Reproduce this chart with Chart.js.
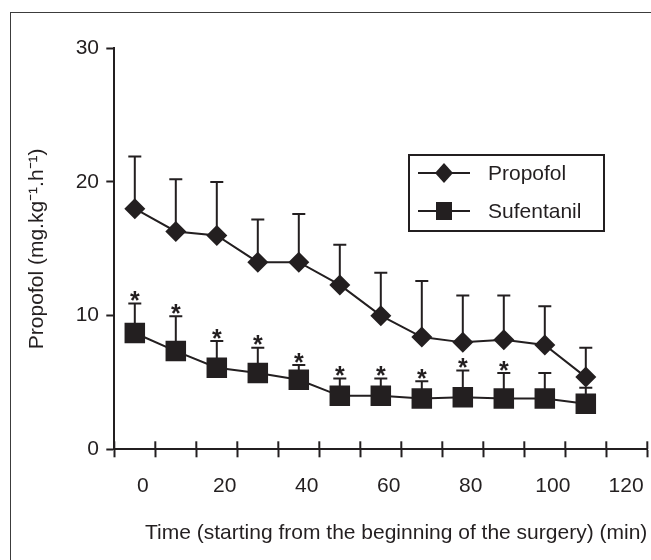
<!DOCTYPE html>
<html>
<head>
<meta charset="utf-8">
<script src="https://cdn.jsdelivr.net/npm/chart.js@4.4.1/dist/chart.umd.min.js"></script>
<style>
  html, body { margin: 0; padding: 0; background: #fff; }
  #wrap { position: relative; width: 651px; height: 560px; overflow: hidden; }
  #frame { position: absolute; left: 10px; top: 12px; width: 700px; height: 600px;
           border-left: 1.5px solid #3c3c3c; border-top: 1.5px solid #3c3c3c; }
  #chart { position: absolute; left: 0; top: 0; }
  #legend { position: absolute; left: 408px; top: 154px; width: 193px; height: 74px;
            border: 2px solid #231f20; font: 21px "Liberation Sans", Arial, sans-serif; color: #231f20; }
  #legend .row { position: absolute; left: 8px; height: 24px; display: flex; align-items: center; }
  #legend svg { margin-right: 18px; }
</style>
</head>
<body>
<div id="wrap">
  <div id="frame"></div>
  <canvas id="chart" width="651" height="560"></canvas>
  <div id="legend">
    <div class="row" style="top:5px">
      <svg width="52" height="24"><line x1="0" y1="12" x2="52" y2="12" stroke="#231f20" stroke-width="2"/>
        <polygon points="26,2 35,12 26,22 17,12" fill="#231f20"/></svg>
      <span id="lg0"></span>
    </div>
    <div class="row" style="top:43px">
      <svg width="52" height="24"><line x1="0" y1="12" x2="52" y2="12" stroke="#231f20" stroke-width="2"/>
        <rect x="18" y="3" width="16" height="18" fill="#231f20"/></svg>
      <span id="lg1"></span>
    </div>
  </div>
</div>
<script>
// time points (min) and group means / SD (upper bars only)
const times = [0, 10, 20, 30, 40, 50, 60, 70, 80, 90, 100, 110];
const propofolMean = [18.0, 16.3, 16.0, 14.0, 14.0, 12.3, 10.0, 8.4, 8.0, 8.2, 7.8, 5.4];
const propofolSD = [3.9, 3.9, 4.0, 3.2, 3.6, 3.0, 3.2, 4.2, 3.5, 3.3, 2.9, 2.2];
const sufentanilMean = [8.7, 7.35, 6.1, 5.7, 5.2, 4.0, 4.0, 3.8, 3.9, 3.8, 3.8, 3.4];
const sufentanilSD = [2.2, 2.6, 2.0, 1.9, 1.1, 1.3, 1.3, 1.3, 2.0, 1.9, 1.9, 1.2];
const significant = [1, 1, 1, 1, 1, 1, 1, 1, 1, 1, 0, 0];

const seriesNames = ['Propofol', 'Sufentanil'];
const xTickLabels = ['0', '20', '40', '60', '80', '100', '120'];
const yTickLabels = ['0', '10', '20', '30'];
const xTitle = 'Time (starting from the beginning of the surgery) (min)';
const yTitle = 'Propofol (mg.kg\u207B\u00B9.h\u207B\u00B9)';

const ink = '#231f20';
const font = { family: '"Liberation Sans", Arial, sans-serif', size: 21 };

document.getElementById('lg0').textContent = seriesNames[0];
document.getElementById('lg1').textContent = seriesNames[1];

// tick marks sit between the time points; labels are separate ticks without marks
const labelVals = xTickLabels.map(Number);
const markVals = [];
for (let v = -5; v <= 125; v += 10) markVals.push(v);
const xTickVals = markVals.concat(labelVals).sort((a, b) => a - b);

function xLabel(v) {
  const i = labelVals.indexOf(v);
  if (i < 0) return '';
  // last label is pulled in from the right edge, as in the original
  return i === xTickLabels.length - 1 ? xTickLabels[i] + '\u00A0\u00A0\u00A0' : xTickLabels[i];
}

const errorBars = {
  id: 'errorBars',
  beforeDatasetsDraw(chart) {
    const { ctx } = chart;
    const y = chart.scales.y;
    chart.data.datasets.forEach((ds, i) => {
      const meta = chart.getDatasetMeta(i);
      ctx.save();
      ctx.strokeStyle = ink;
      ctx.lineWidth = 2;
      meta.data.forEach((pt, j) => {
        const top = y.getPixelForValue(ds.data[j].y + ds.errors[j]);
        ctx.beginPath();
        ctx.moveTo(pt.x, pt.y);
        ctx.lineTo(pt.x, top);
        ctx.moveTo(pt.x - 6.5, top);
        ctx.lineTo(pt.x + 6.5, top);
        ctx.stroke();
      });
      ctx.restore();
    });
  },
  afterDatasetsDraw(chart) {
    const { ctx } = chart;
    const y = chart.scales.y;
    const ds = chart.data.datasets[1];
    const meta = chart.getDatasetMeta(1);
    ctx.save();
    ctx.fillStyle = ink;
    ctx.font = 'bold 25px "Liberation Sans", Arial, sans-serif';
    ctx.textAlign = 'center';
    ctx.textBaseline = 'alphabetic';
    meta.data.forEach((pt, j) => {
      if (!significant[j]) return;
      const top = y.getPixelForValue(ds.data[j].y + ds.errors[j]);
      ctx.fillText('*', pt.x, top - 9 + 14.5);
    });
    ctx.restore();
  },
  afterDraw(chart) {
    // inner half of the x tick marks (they cross the axis line)
    const { ctx } = chart;
    const x = chart.scales.x;
    ctx.save();
    ctx.strokeStyle = ink;
    ctx.lineWidth = 2;
    x.ticks.forEach(t => {
      if (labelVals.includes(t.value)) return;
      const px = x.getPixelForValue(t.value);
      ctx.beginPath();
      ctx.moveTo(px, x.top);
      ctx.lineTo(px, x.top - 8);
      ctx.stroke();
    });
    ctx.restore();
  }
};

new Chart(document.getElementById('chart'), {
  type: 'line',
  data: {
    datasets: [
      {
        label: seriesNames[0],
        data: times.map((t, i) => ({ x: t, y: propofolMean[i] })),
        errors: propofolSD,
        borderColor: ink,
        borderWidth: 2,
        backgroundColor: ink,
        pointStyle: 'rectRot',
        pointRadius: 10.5,
        pointBorderWidth: 0,
        tension: 0
      },
      {
        label: seriesNames[1],
        data: times.map((t, i) => ({ x: t, y: sufentanilMean[i] })),
        errors: sufentanilSD,
        borderColor: ink,
        borderWidth: 2,
        backgroundColor: ink,
        pointStyle: 'rect',
        pointRadius: 14.5,
        pointBorderWidth: 0,
        tension: 0
      }
    ]
  },
  options: {
    responsive: false,
    animation: false,
    layout: { autoPadding: false, padding: { left: 21, right: 3.7, top: 48.3, bottom: 10 } },
    plugins: { legend: { display: false }, tooltip: { enabled: false } },
    scales: {
      x: {
        type: 'linear',
        min: -5,
        max: 125,
        afterBuildTicks: s => { s.ticks = xTickVals.map(v => ({ value: v })); },
        afterFit: s => { s.height = 100.7; },
        ticks: {
          autoSkip: false,
          maxRotation: 0,
          labelOffset: 8,
          padding: 0,
          color: ink,
          font: { family: font.family, size: 21, lineHeight: 2.78 },
          callback: v => xLabel(v)
        },
        grid: {
          drawOnChartArea: false,
          tickLength: 8,
          tickWidth: 2,
          tickColor: c => (c.tick && labelVals.includes(c.tick.value) ? 'rgba(0,0,0,0)' : ink)
        },
        border: { color: ink, width: 2 },
        title: { display: true, text: xTitle, align: 'end', color: ink, font: font, padding: { top: 4, bottom: 4 } }
      },
      y: {
        min: 0,
        max: 30,
        afterFit: s => { s.width = 93.3; },
        ticks: {
          stepSize: 10,
          padding: 7.3,
          color: ink,
          font: font,
          callback: (v, i) => yTickLabels[i]
        },
        grid: { drawOnChartArea: false, tickLength: 8, tickWidth: 2, tickColor: ink },
        border: { color: ink, width: 2 },
        title: { display: true, text: yTitle, color: ink, font: font, padding: { top: 4, bottom: 0 } }
      }
    }
  },
  plugins: [errorBars]
});
</script>
</body>
</html>
